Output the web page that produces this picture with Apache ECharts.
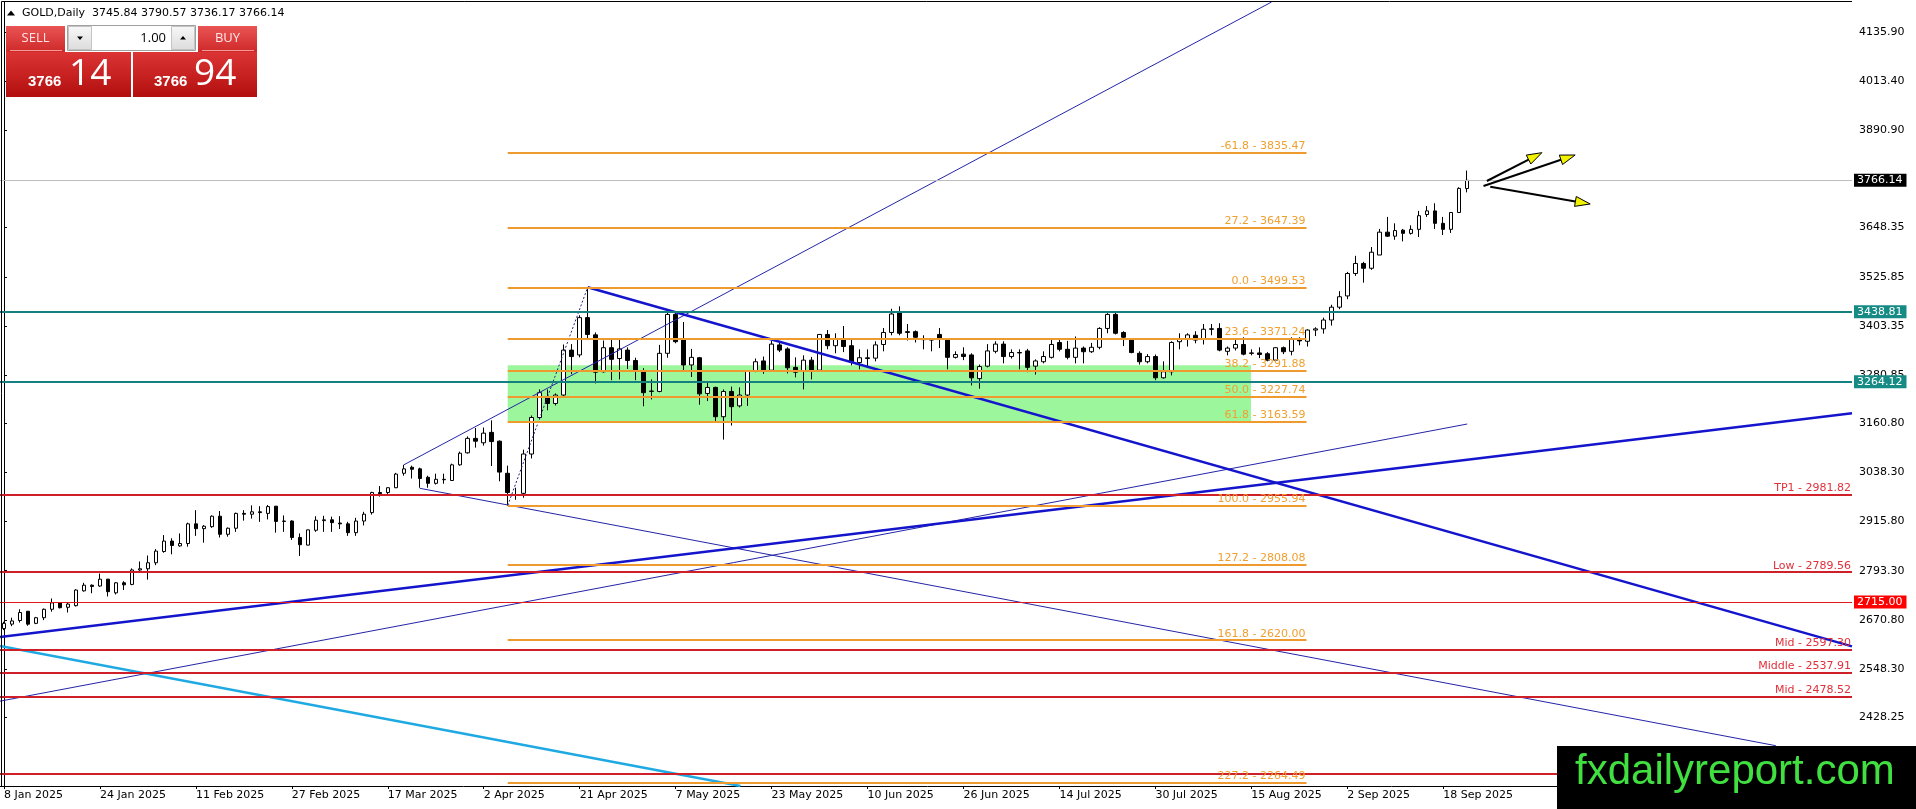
<!DOCTYPE html>
<html><head><meta charset="utf-8">
<script src="https://cdn.jsdelivr.net/npm/echarts@6/dist/echarts.min.js"></script>
<style>html,body{margin:0;padding:0;background:#fff;}#c{width:1916px;height:809px;}</style>
</head><body><div id="c"></div>
<script>
// ================= DATA =================
const headerText = 'GOLD,Daily  3745.84 3790.57 3736.17 3766.14';
const sellPrice = ['3766', '14'];
const buyPrice = ['3766', '94'];
const lotSize = '1.00';
const watermark = 'fxdailyreport.com';

// trading-day calendar (categories)
const firstDate = '2025-01-08', lastDate = '2025-09-23';
const holidays = ['2025-04-18'];
const futureBars = 48;
const labelEvery = 12;

// daily bars  [open, high, low, close]
const jan = [[2649,2666,2645,2662],[2660,2676,2655,2668],[2669,2697,2664,2689],[2692,2693,2656,2660],[2662,2678,2660,2676],[2676,2699,2670,2697],[2697,2724,2691,2713],[2713,2715,2699,2701],[2702,2713,2689,2710],[2706,2747,2704,2745],[2743,2763,2741,2757],[2757,2759,2737,2754],[2755,2786,2753,2772],[2772,2773,2729,2741],[2738,2765,2734,2763],[2763,2767,2745,2758],[2759,2799,2757,2795],[2795,2816,2793,2798]];
const feb = [[2798,2831,2771,2813],[2813,2847,2807,2842],[2841,2882,2838,2867],[2867,2874,2834,2856],[2855,2886,2853,2861],[2861,2913,2853,2910],[2910,2944,2880,2898],[2898,2907,2863,2904],[2903,2931,2900,2929],[2929,2942,2876,2884],[2884,2901,2878,2899],[2899,2938,2890,2936],[2936,2944,2918,2934],[2934,2956,2923,2940],[2940,2954,2915,2938],[2936,2957,2921,2953],[2954,2954,2888,2916],[2916,2931,2890,2917],[2917,2919,2870,2876],[2876,2886,2830,2858]];
const mar = [[2857,2896,2856,2895],[2894,2929,2890,2919],[2918,2930,2890,2920],[2920,2928,2890,2913],[2912,2929,2897,2910],[2910,2915,2880,2888],[2888,2925,2880,2917],[2917,2940,2906,2934],[2938,2990,2933,2988],[2988,3004,2978,2985],[2988,3001,2982,3000],[3000,3037,2999,3034],[3036,3057,3030,3047],[3051,3055,3023,3046],[3047,3050,3000,3023],[3026,3030,3000,3011],[3011,3035,3008,3021],[3020,3035,3010,3021],[3018,3060,3017,3057],[3057,3090,3055,3086],[3087,3128,3085,3123]];
const apr = [[3123,3149,3100,3116],[3112,3150,3105,3136],[3138,3168,3054,3115],[3116,3118,3016,3039],[3036,3055,2955.94,2988],[2983,3000,2970,2982],[2986,3095,2975,3084],[3084,3180,3073,3175],[3175,3245,3170,3237],[3225,3245,3193,3210],[3210,3235,3205,3231],[3231,3357,3228,3343],[3343,3358,3283,3327],[3331,3430,3325,3424],[3424,3499.53,3368,3382],[3381,3387,3260,3288],[3289,3367,3287,3349],[3349,3370,3268,3320],[3322,3372,3270,3346],[3343,3350,3296,3317],[3317,3324,3268,3293]];
const may = [[3292,3298,3203,3237],[3240,3270,3220,3241],[3240,3356,3238,3335],[3335,3437,3324,3432],[3432,3440,3360,3364],[3368,3413,3290,3306],[3306,3346,3276,3325],[3324,3326,3207,3234],[3235,3264,3216,3250],[3250,3252,3165,3177],[3177,3245,3120,3240],[3240,3252,3155,3202],[3204,3250,3200,3231],[3231,3293,3204,3291],[3292,3322,3288,3314],[3316,3327,3284,3293],[3293,3366,3291,3358],[3356,3365,3338,3343],[3346,3350,3285,3299],[3300,3325,3275,3288],[3290,3330,3245,3318],[3318,3326,3270,3292]];
const jun = [[3293,3383,3290,3382],[3382,3393,3345,3354],[3354,3385,3335,3372],[3370,3403,3338,3352],[3354,3370,3305,3314],[3312,3345,3295,3324],[3322,3345,3300,3324],[3323,3365,3315,3356],[3357,3398,3340,3387],[3387,3446,3380,3433],[3436,3452,3380,3385],[3389,3408,3367,3387],[3389,3392,3362,3375],[3370,3380,3345,3369],[3370,3370,3340,3368],[3382,3398,3348,3370],[3369,3372,3295,3325],[3325,3340,3322,3332],[3333,3350,3318,3327],[3331,3335,3255,3274],[3272,3307,3247,3302]];
const jul = [[3303,3358,3300,3341],[3340,3365,3335,3358],[3358,3365,3310,3327],[3327,3345,3322,3337],[3337,3345,3295,3336],[3341,3346,3288,3300],[3303,3320,3282,3316],[3314,3340,3310,3327],[3325,3370,3322,3357],[3362,3370,3340,3345],[3345,3366,3320,3325],[3325,3377,3310,3348],[3348,3352,3310,3339],[3339,3361,3336,3350],[3350,3400,3345,3397],[3397,3435,3385,3432],[3432,3437,3382,3385],[3387,3390,3353,3375],[3370,3372,3335,3337],[3335,3340,3307,3314],[3314,3333,3310,3327],[3327,3332,3268,3274],[3274,3315,3272,3289]];
const aug = [[3289,3365,3280,3362],[3364,3385,3345,3370],[3370,3385,3352,3381],[3380,3390,3360,3368],[3370,3408,3357,3395],[3396,3408,3380,3395],[3397,3410,3340,3343],[3340,3352,3330,3348],[3348,3370,3342,3357],[3357,3375,3330,3333],[3336,3345,3330,3335],[3336,3350,3323,3332],[3334,3338,3315,3318],[3318,3350,3315,3349],[3349,3352,3333,3339],[3340,3375,3330,3370],[3370,3375,3355,3366],[3365,3395,3352,3393],[3393,3400,3378,3396],[3396,3424,3384,3418],[3418,3456,3404,3450]];
const sep = [[3450,3490,3445,3476],[3478,3538,3470,3534],[3534,3578,3528,3559],[3559,3563,3511,3547],[3547,3600,3543,3587],[3580,3645,3580,3637],[3637,3675,3625,3627],[3627,3659,3618,3641],[3642,3645,3614,3634],[3634,3654,3631,3644],[3644,3690,3625,3678],[3681,3702,3675,3690],[3690,3709,3645,3659],[3659,3675,3630,3644],[3644,3687,3635,3686],[3686,3749,3685,3746],[3745.84,3790.57,3736.17,3766.14]];

// price axis
const yRange = [2256.55, 4210.68];
const yTicks = [4135.90, 4013.40, 3890.90, 3648.35, 3525.85, 3403.35, 3280.85, 3160.80, 3038.30, 2915.80, 2793.30, 2670.80, 2548.30, 2428.25];

// horizontal levels
const currentPrice = 3766.14;
const tealLevels = [3438.81, 3264.12];
const redLevels = [['TP1', 2981.82], ['Low', 2789.56], ['Mid', 2597.30], ['Middle', 2537.91], ['Mid', 2478.52]];
const redPlainLevels = [2287.2];
const redTagLevel = 2715.00;

// fibonacci (bar index range, levels)
const fibStartBar = 63, fibEndBar = 162.9;
const fibLevels = [['-61.8', 3835.47], ['27.2', 3647.39], ['0.0', 3499.53], ['23.6', 3371.24], ['38.2', 3291.88], ['50.0', 3227.74], ['61.8', 3163.59], ['100.0', 2955.94], ['127.2', 2808.08], ['161.8', 2620.00], ['227.2', 2264.49]];
const fibBase = [[63, 2955.94], [73, 3499.53]];
const zoneBox = [[63, 3163.59], [155.96, 3305]];

// trend lines: anchor points [barIndex, price], extension
const trendThin = [
  {p: [[50, 3057], [150, 4120]], ext: [false, true]},
  {p: [[52, 2998.6], [221.6, 2357]], ext: [false, false]},
  {p: [[-0.5, 2468], [183, 3158.8]], ext: [false, false]}
];
const trendThick = [
  {p: [[73, 3499.53], [180, 2893.9]], ext: [false, true]},
  {p: [[0, 2629], [231.125, 3185.5]], ext: [true, true]}
];
const trendCyan = [{p: [[0, 2603.8], [87, 2275.8]], ext: [true, true]}];

// arrows [x1, y1, x2, y2]
const arrows = [[185.46, 3764.5, 192.34, 3835.1], [185.04, 3752.0, 196.5, 3829.3], [185.88, 3750.3, 198.38, 3707.2]];

// ================= BUILD =================
const MONTHS = ['Jan','Feb','Mar','Apr','May','Jun','Jul','Aug','Sep','Oct','Nov','Dec'];
function tradingDays(s, e, hol) {
  const out = []; const d = new Date(s + 'T00:00:00Z'); const end = new Date(e + 'T00:00:00Z');
  while (d <= end) {
    const wd = d.getUTCDay(), iso = d.toISOString().slice(0, 10);
    if (wd !== 0 && wd !== 6 && hol.indexOf(iso) < 0) out.push(d.getUTCDate() + ' ' + MONTHS[d.getUTCMonth()] + ' ' + d.getUTCFullYear());
    d.setUTCDate(d.getUTCDate() + 1);
  }
  return out;
}
const bars = [].concat(jan, feb, mar, apr, may, jun, jul, aug, sep);
const dates = tradingDays(firstDate, lastDate, holidays);
const nBars = bars.length;
const cats = dates.slice(0, nBars);
for (let i = 1; i <= futureBars; i++) cats.push('+' + i);
const N = cats.length;
const XL = -0.5, XR = 231.125;

function clipSeg(p1, p2, ext) {
  const dx = p2[0] - p1[0], dy = p2[1] - p1[1];
  let t0 = ext[0] ? -1e9 : 0, t1 = ext[1] ? 1e9 : 1;
  const chk = [[-dx, p1[0] - XL], [dx, XR - p1[0]], [-dy, p1[1] - yRange[0]], [dy, yRange[1] - p1[1]]];
  for (const [p, q] of chk) {
    if (p === 0) { if (q < 0) return null; continue; }
    const r = q / p;
    if (p < 0) { if (r > t1) return null; if (r > t0) t0 = r; }
    else { if (r < t0) return null; if (r < t1) t1 = r; }
  }
  return [[p1[0] + t0 * dx, p1[1] + t0 * dy], [p1[0] + t1 * dx, p1[1] + t1 * dy]];
}

const FONT = 'DejaVu Sans';
const series = [];

// zone rectangle
series.push({
  type: 'line', xAxisIndex: 1, yAxisIndex: 0, data: [], silent: true, z: 1,
  markArea: {silent: true, z: 1, itemStyle: {color: '#9cf79c'},
    data: [[{coord: zoneBox[0]}, {coord: zoneBox[1]}]]}
});

// candles
series.push({
  type: 'candlestick', xAxisIndex: 0, yAxisIndex: 0, z: 2, barWidth: 4,
  data: bars.map(b => [b[0], b[3], b[2], b[1]]),
  itemStyle: {color: '#ffffff', color0: '#000000', borderColor: '#000000', borderColor0: '#000000', borderWidth: 1}
});

function addLine(def, style) {
  const s = clipSeg(def.p[0], def.p[1], def.ext);
  if (!s) return;
  series.push({type: 'line', xAxisIndex: 1, yAxisIndex: 0, data: s, symbol: 'none', silent: true, z: 4,
    lineStyle: style, animation: false});
}
trendThin.forEach(d => addLine(d, {color: '#2424a8', width: 1}));
trendThick.forEach(d => addLine(d, {color: '#1414cc', width: 2.5}));
trendCyan.forEach(d => addLine(d, {color: '#1fa9e2', width: 2.5}));
series.push({type: 'line', xAxisIndex: 1, yAxisIndex: 0, data: fibBase, symbol: 'none', silent: true, z: 4,
  lineStyle: {color: '#20208a', width: 1, type: [2, 2]}});

// horizontal levels
function hl(v, line, label) {
  const a = {coord: [XL, v], lineStyle: line, label: label || {show: false}};
  const b = {coord: [XR, v], lineStyle: line, label: label || {show: false}};
  return [a, b];
}
const tag = (bg, txt) => ({show: true, position: 'end', distance: 2, formatter: txt, backgroundColor: bg, color: '#fff',
  padding: [1, 4, 0, 3], fontSize: 11, lineHeight: 12, fontFamily: FONT});
const txtLabel = (txt, col) => ({show: true, position: 'insideEndTop', distance: 1, formatter: txt, color: col,
  fontSize: 11, fontFamily: FONT});
const mlData = [];
fibLevels.forEach(f => {
  const st = {color: '#ee9a2e', width: 2, type: 'solid'};
  const lab = txtLabel(f[0] + ' - ' + f[1].toFixed(2), '#f0a030');
  mlData.push([{coord: [fibStartBar, f[1]], lineStyle: st, label: lab}, {coord: [fibEndBar, f[1]], lineStyle: st, label: lab}]);
});
redLevels.forEach(r => mlData.push(hl(r[1], {color: '#cf1f28', width: 2, type: 'solid'}, txtLabel(r[0] + ' - ' + r[1].toFixed(2), '#e0303a'))));
redPlainLevels.forEach(v => mlData.push(hl(v, {color: '#cf1f28', width: 2, type: 'solid'})));
mlData.push(hl(redTagLevel, {color: '#e01a1a', width: 1, type: 'solid'}, tag('#ff0000', redTagLevel.toFixed(2))));
tealLevels.forEach(v => mlData.push(hl(v, {color: '#148080', width: 2, type: 'solid'}, tag('#168a84', v.toFixed(2)))));
mlData.push(hl(currentPrice, {color: '#bdbdbd', width: 1, type: 'solid'}, tag('#000000', currentPrice.toFixed(2))));

series.push({type: 'line', xAxisIndex: 1, yAxisIndex: 0, data: [], silent: true, z: 5,
  markLine: {silent: true, symbol: ['none', 'none'], z: 5, animation: false, data: mlData}});

// arrows
series.push({
  type: 'custom', xAxisIndex: 1, yAxisIndex: 0, z: 6, silent: true, data: arrows,
  encode: {x: [0, 2], y: [1, 3]},
  renderItem: function (params, api) {
    const a = api.coord([api.value(0), api.value(1)]);
    const b = api.coord([api.value(2), api.value(3)]);
    const dx = b[0] - a[0], dy = b[1] - a[1], L = Math.hypot(dx, dy), ux = dx / L, uy = dy / L;
    const hlen = 15, hw = 5;
    const base = [b[0] - ux * hlen, b[1] - uy * hlen];
    const l = [base[0] - uy * hw, base[1] + ux * hw], r = [base[0] + uy * hw, base[1] - ux * hw];
    return {type: 'group', children: [
      {type: 'line', shape: {x1: a[0], y1: a[1], x2: base[0], y2: base[1]}, style: {stroke: '#000', lineWidth: 2}},
      {type: 'polygon', shape: {points: [b, l, r]}, style: {fill: '#f2f200', stroke: '#000', lineWidth: 1}}
    ]};
  }
});

const showIdx = (i) => i < nBars && i % labelEvery === 0;

const redGrad = (c1, c2) => ({type: 'linear', x: 0, y: 0, x2: 0, y2: 1, colorStops: [{offset: 0, color: c1}, {offset: 1, color: c2}]});
const btnGrad = redGrad('#f8f8f8', '#dcdcdc');
const graphics = [
  {type: 'polyline', z: 50, shape: {points: [[1.5, 786], [1.5, 1.5], [1852, 1.5]]}, style: {stroke: '#000', lineWidth: 1, fill: null}},
  {type: 'polygon', z: 50, shape: {points: [[7, 15.5], [11, 10.5], [15, 15.5]]}, style: {fill: '#000'}},
  {type: 'text', z: 50, style: {text: headerText, x: 22, y: 13, fill: '#000', font: '11px "DejaVu Sans"', verticalAlign: 'middle', textVerticalAlign: 'middle'}},
  // trade panel
  {type: 'rect', z: 50, shape: {x: 6, y: 26, width: 59, height: 26}, style: {fill: redGrad('#e95454', '#cf2929')}},
  {type: 'rect', z: 50, shape: {x: 198, y: 26, width: 59, height: 26}, style: {fill: redGrad('#e95454', '#cf2929')}},
  {type: 'line', z: 51, shape: {x1: 10, y1: 50.5, x2: 62, y2: 50.5}, style: {stroke: '#f39a9a', lineWidth: 1}},
  {type: 'line', z: 51, shape: {x1: 202, y1: 50.5, x2: 254, y2: 50.5}, style: {stroke: '#f39a9a', lineWidth: 1}},
  {type: 'text', z: 51, style: {text: 'SELL', x: 35.5, y: 38.5, fill: '#ffe6e6', font: '13px "Open Sans"', align: 'center', textAlign: 'center', verticalAlign: 'middle', textVerticalAlign: 'middle'}},
  {type: 'text', z: 51, style: {text: 'BUY', x: 227.5, y: 38.5, fill: '#ffe6e6', font: '13px "Open Sans"', align: 'center', textAlign: 'center', verticalAlign: 'middle', textVerticalAlign: 'middle'}},
  {type: 'rect', z: 50, shape: {x: 67.5, y: 25.5, width: 128, height: 25}, style: {fill: '#fff', stroke: '#a0a0a0', lineWidth: 1}},
  {type: 'rect', z: 51, shape: {x: 68.5, y: 26.5, width: 23, height: 23}, style: {fill: btnGrad, stroke: '#c4c4c4', lineWidth: 1}},
  {type: 'rect', z: 51, shape: {x: 171.5, y: 26.5, width: 23, height: 23}, style: {fill: btnGrad, stroke: '#c4c4c4', lineWidth: 1}},
  {type: 'polygon', z: 52, shape: {points: [[77, 36.5], [83, 36.5], [80, 40]]}, style: {fill: '#000'}},
  {type: 'polygon', z: 52, shape: {points: [[180, 39.5], [186, 39.5], [183, 36]]}, style: {fill: '#000'}},
  {type: 'text', z: 52, style: {text: lotSize, x: 166, y: 38, fill: '#000', font: '13px "Open Sans"', align: 'right', textAlign: 'right', verticalAlign: 'middle', textVerticalAlign: 'middle'}},
  {type: 'rect', z: 50, shape: {x: 6, y: 52, width: 125, height: 45}, style: {fill: redGrad('#dc3434', '#b30f0f')}},
  {type: 'rect', z: 50, shape: {x: 133, y: 52, width: 124, height: 45}, style: {fill: redGrad('#dc3434', '#b30f0f')}},
  {type: 'text', z: 51, style: {text: sellPrice[0], x: 28, y: 82, fill: '#fff', font: 'bold 15px "Liberation Sans"', verticalAlign: 'middle', textVerticalAlign: 'middle'}},
  {type: 'text', z: 51, style: {text: sellPrice[1], x: 69, y: 74, fill: '#fff', font: '37px "Open Sans"', verticalAlign: 'middle', textVerticalAlign: 'middle'}},
  {type: 'text', z: 51, style: {text: buyPrice[0], x: 154, y: 82, fill: '#fff', font: 'bold 15px "Liberation Sans"', verticalAlign: 'middle', textVerticalAlign: 'middle'}},
  {type: 'text', z: 51, style: {text: buyPrice[1], x: 194, y: 74, fill: '#fff', font: '37px "Open Sans"', verticalAlign: 'middle', textVerticalAlign: 'middle'}},
  // watermark
  {type: 'rect', z: 60, shape: {x: 1557, y: 746, width: 359, height: 63}, style: {fill: '#000'}},
  {type: 'text', z: 61, style: {text: watermark, x: 1575, y: 772, fill: '#40e040', font: '42px "Liberation Sans"', verticalAlign: 'middle', textVerticalAlign: 'middle'}}
];

const chart = echarts.init(document.getElementById('c'), null, {renderer: 'canvas'});
chart.setOption({
  animation: false,
  backgroundColor: '#ffffff',
  grid: {left: -1, top: 2, width: 1856, height: 784, containLabel: false, show: false},
  xAxis: [
    {type: 'category', data: cats, boundaryGap: true, position: 'bottom',
      axisLine: {show: true, lineStyle: {color: '#000', width: 1}},
      axisTick: {show: true, interval: showIdx, alignWithLabel: true, length: 3, lineStyle: {color: '#000'}},
      axisLabel: {show: true, interval: showIdx, align: 'left', margin: 4, fontSize: 11, color: '#000', fontFamily: FONT},
      splitLine: {show: false}},
    {type: 'value', min: -0.5, max: N - 0.5, show: false, splitLine: {show: false}}
  ],
  yAxis: [{type: 'value', position: 'right', offset: -3, min: yRange[0], max: yRange[1], scale: true,
    axisLine: {show: true, lineStyle: {color: '#000', width: 1}},
    axisTick: {show: true, length: 3, customValues: yTicks, lineStyle: {color: '#000'}},
    axisLabel: {show: true, customValues: yTicks, formatter: v => Number(v).toFixed(2), margin: 7, fontSize: 11, color: '#000', fontFamily: FONT},
    splitLine: {show: false}}],
  series: series,
  graphic: graphics
});
</script></body></html>
